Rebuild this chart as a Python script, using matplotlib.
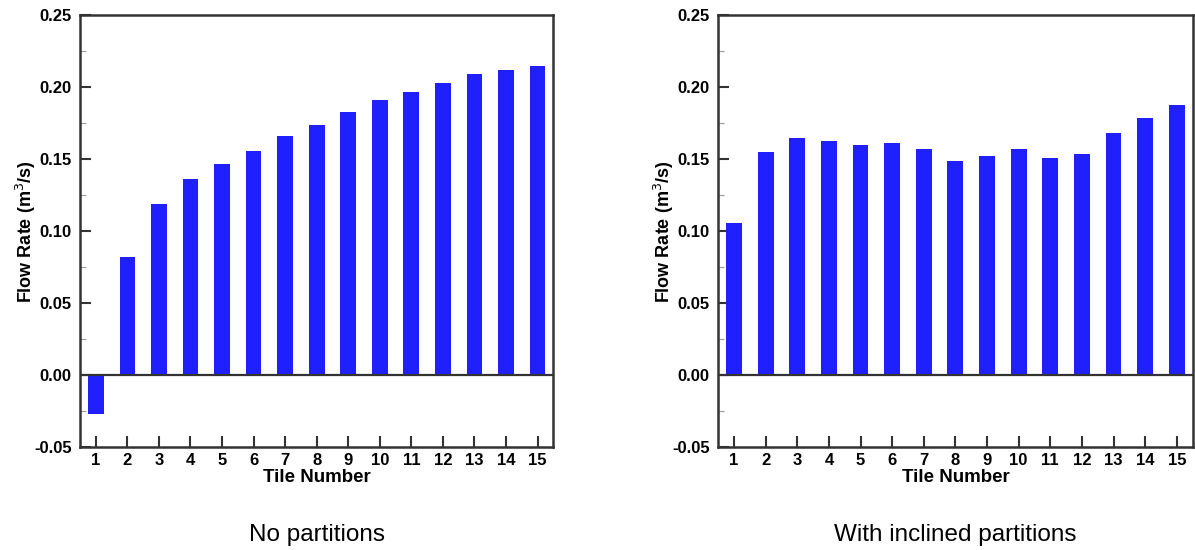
import matplotlib.pyplot as plt
from matplotlib.ticker import MultipleLocator

plt.rcParams['font.family'] = ['Liberation Sans', 'DejaVu Sans']

tiles = list(range(1, 16))
no_partitions = [-0.027, 0.082, 0.119, 0.136, 0.147, 0.156, 0.166, 0.174, 0.183,
                 0.191, 0.197, 0.203, 0.209, 0.212, 0.215]
inclined = [0.106, 0.155, 0.165, 0.163, 0.160, 0.161, 0.157, 0.149, 0.152,
            0.157, 0.151, 0.154, 0.168, 0.179, 0.188]
captions = ["No partitions", "With inclined partitions"]

fig = plt.figure(figsize=(11.95, 5.5), dpi=100)
ax1 = fig.add_axes([0.067, 0.187, 0.396, 0.785])
ax2 = fig.add_axes([0.601, 0.187, 0.397, 0.785])

for ax, vals, cap in [(ax1, no_partitions, captions[0]), (ax2, inclined, captions[1])]:
    ax.bar(tiles, vals, width=0.5, color='#2020ff', zorder=2)
    ax.axhline(0, color='#333333', lw=1.6, zorder=3)
    ax.set_xlim(0.5, 15.5)
    ax.set_ylim(-0.05, 0.25)
    ax.set_xticks(tiles)
    ax.yaxis.set_major_locator(MultipleLocator(0.05))
    ax.yaxis.set_minor_locator(MultipleLocator(0.025))
    ax.yaxis.set_major_formatter(plt.FormatStrFormatter('%.2f'))
    ax.tick_params(axis='both', which='major', direction='in', length=8, width=1.5,
                   labelsize=12, color='#333333')
    ax.tick_params(axis='x', pad=4)
    ax.tick_params(axis='y', pad=6)
    ax.tick_params(axis='y', which='minor', direction='in', length=4, width=0.8, color='#999999')
    ax.tick_params(top=False, right=False)
    for lbl in ax.get_xticklabels() + ax.get_yticklabels():
        lbl.set_fontweight('bold')
    for s in ax.spines.values():
        s.set_linewidth(1.8)
        s.set_color('#333333')
    ax.set_xlabel("Tile Number", fontsize=13.5, fontweight='bold', labelpad=1)
    ax.set_ylabel("Flow Rate (m$^3$/s)", fontsize=13, fontweight='bold', labelpad=-3)
    pos = ax.get_position()
    fig.text(pos.x0 + pos.width / 2, 0.028, cap, ha='center', va='center', fontsize=17.5)

fig.savefig("out.png", dpi=100)
